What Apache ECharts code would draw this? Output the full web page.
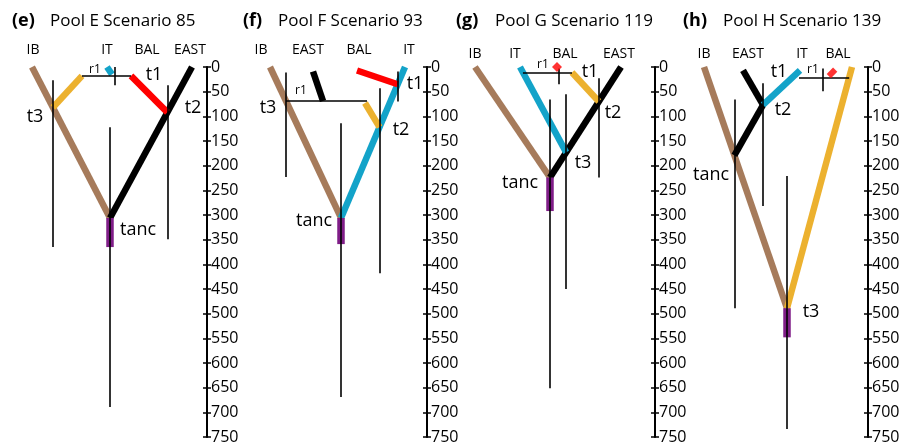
<!DOCTYPE html>
<html><head><meta charset="utf-8">
<script src="https://cdn.jsdelivr.net/npm/echarts@6/dist/echarts.min.js"></script>
<style>html,body{margin:0;padding:0;background:#fff}#c{width:911px;height:445px}</style>
</head><body><div id="c"></div>
<script>
// ---------- data ----------
const panelLetters = ['(e)', '(f)', '(g)', '(h)'];
const panelTitles = ['Pool E Scenario 85', 'Pool F Scenario 93', 'Pool G Scenario 119', 'Pool H Scenario 139'];
const popLabels = [['IB', 'IT', 'BAL', 'EAST'], ['IB', 'EAST', 'BAL', 'IT'], ['IB', 'IT', 'BAL', 'EAST'], ['IB', 'EAST', 'IT', 'BAL']];
const axisTicks = [0, 50, 100, 150, 200, 250, 300, 350, 400, 450, 500, 550, 600, 650, 700, 750];
// node times (panels e, f, g, h)
const r1Time   = [18, 69, 11, 21];
const t1Time   = [18, 35, 11, 7];
const t2Time   = [92, 122, 70, 77];
const t3Time   = [82, 69, 173, 489];
const tancTime = [306, 306, 224, 179];
const rootBarEnd = [365, 359, 292, 548];
// lineage start times of short tips
const tipStartF = [7, 9];     // BAL, EAST in (f)
const tipStartH = [7, 7];     // EAST, IT in (h)
// interval lines: [node, low, high]
const ciE = [['r1', 0, 37], ['t3', 27, 365], ['t2', 37, 349], ['tanc', 122, 689]];
const ciF = [['t1', 9, 70], ['t3', 11, 223], ['t2', 43, 418], ['tanc', 114, 669]];
const ciG = [['r1', 3, 35], ['t2', 23, 224], ['t3', 55, 450], ['tanc', 66, 651]];
const ciH = [['r1', 3, 49], ['t2', 33, 282], ['tanc', 66, 489], ['t3', 221, 734]];

// ---------- layout ----------
const AXIS_X = [207, 427, 655, 868];
const GW = 200, GTOP = 67, GH = 370;
const C = {brown: '#a67b5b', orange: '#ecb12f', red: '#ff0000', blue: '#13a3c9', black: '#000000', purple: '#7f1d87'};
const FONT = "'Open Sans', 'Noto Sans', sans-serif";

function lerp(a, b, T, t) { return a + (b - a) * t / T; }
function seg(p, q, color) { return {coords: [p, q], lineStyle: {color: color}}; }

function buildPanel(i) {
  const thick = [], thin = [], bar = [], dots = [];
  const nodeX = {};
  if (i === 0) {
    const L = {IB: 25, IT: 100, ITb: 105, BAL: 124, EAST: 185, root: 103, r1: 108, OR: 75};
    const T = tancTime[i];
    nodeX.t3 = lerp(L.IB, L.root, T, t3Time[i]);
    nodeX.t2 = lerp(L.EAST, L.root, T, t2Time[i]);
    nodeX.tanc = L.root; nodeX.r1 = L.r1;
    thick.push(seg([L.IB, 0], [L.root, T], C.brown));
    thick.push(seg([L.EAST, 0], [L.root, T], C.black));
    thick.push(seg([L.OR, r1Time[i]], [nodeX.t3, t3Time[i]], C.orange));
    thick.push(seg([L.BAL, r1Time[i]], [nodeX.t2, t2Time[i]], C.red));
    thick.push(seg([L.IT, 0], [L.ITb, r1Time[i] - 3], C.blue));
    thin.push(seg([L.OR, r1Time[i]], [L.BAL, r1Time[i]], C.black));
    bar.push(seg([L.root, T], [L.root, rootBarEnd[i]], C.purple));
    ciE.forEach(c => thin.push(seg([nodeX[c[0]], c[1]], [nodeX[c[0]], c[2]], C.black)));
  } else if (i === 1) {
    const L = {IB: 43, EAST: 86, EASTb: 96, BAL: 130, OR: 138, r1R: 140, IT: 178, root: 114};
    const T = tancTime[i];
    nodeX.tanc = L.root;
    nodeX.t1 = lerp(L.IT, L.root, T, t1Time[i]);
    nodeX.t2 = lerp(L.IT, L.root, T, t2Time[i]);
    nodeX.t3 = lerp(L.IB, L.root, T, t3Time[i]);
    thick.push(seg([L.IB, 0], [L.root, T], C.brown));
    thick.push(seg([L.IT, 0], [L.root, T], C.blue));
    thick.push(seg([L.BAL, tipStartF[0]], [nodeX.t1, t1Time[i]], C.red));
    thick.push(seg([L.EAST, tipStartF[1]], [L.EASTb, r1Time[i]], C.black));
    thick.push(seg([L.OR, r1Time[i] + 4], [nodeX.t2, t2Time[i]], C.orange));
    thin.push(seg([nodeX.t3, r1Time[i]], [L.r1R, r1Time[i]], C.black));
    bar.push(seg([L.root, T], [L.root, rootBarEnd[i]], C.purple));
    ciF.forEach(c => thin.push(seg([nodeX[c[0]], c[1]], [nodeX[c[0]], c[2]], C.black)));
  } else if (i === 2) {
    const L = {IB: 20, IT: 65, BAL: 102, r1: 104, OR: 117, EAST: 166, root: 95};
    const T = tancTime[i];
    nodeX.tanc = L.root; nodeX.r1 = L.r1;
    nodeX.t3 = lerp(L.EAST, L.root, T, t3Time[i]);
    nodeX.t2 = lerp(L.EAST, L.root, T, t2Time[i]);
    thick.push(seg([L.IB, 0], [L.root, T], C.brown));
    thick.push(seg([L.EAST, 0], [L.root, T], C.black));
    thick.push(seg([L.IT, 0], [nodeX.t3, t3Time[i]], C.blue));
    thick.push(seg([L.OR, r1Time[i]], [nodeX.t2, t2Time[i]], C.orange));
    thin.push(seg([lerp(L.IT, nodeX.t3, t3Time[i], r1Time[i]), r1Time[i]], [L.OR, r1Time[i]], C.black));
    bar.push(seg([L.root, T], [L.root, rootBarEnd[i]], C.purple));
    dots.push({value: [L.BAL, 0], symbol: 'diamond', symbolSize: [10, 10], symbolRotate: 0});
    ciG.forEach(c => thin.push(seg([nodeX[c[0]], c[1]], [nodeX[c[0]], c[2]], C.black)));
  } else {
    const L = {IB: 36, EAST: 75, t2: 95, IT: 132, r1L: 131, r1: 155, BAL: 164, YB: 184, root: 119};
    const T = t3Time[i];
    nodeX.t3 = L.root; nodeX.r1 = L.r1; nodeX.t2 = L.t2;
    nodeX.tanc = lerp(L.IB, L.root, T, tancTime[i]);
    thick.push(seg([L.IB, 0], [L.root, T], C.brown));
    thick.push(seg([L.YB, 0], [L.root, T], C.orange));
    thick.push(seg([L.EAST, tipStartH[0]], [L.t2, t2Time[i]], C.black));
    thick.push(seg([L.t2, t2Time[i]], [nodeX.tanc, tancTime[i]], C.black));
    thick.push(seg([L.IT, tipStartH[1]], [L.t2, t2Time[i]], C.blue));
    thin.push(seg([L.r1L, r1Time[i]], [lerp(L.YB, L.root, T, r1Time[i]), r1Time[i]], C.black));
    bar.push(seg([L.root, T], [L.root, rootBarEnd[i]], C.purple));
    dots.push({value: [L.BAL, 12], symbol: 'rect', symbolSize: [9, 6], symbolRotate: 45});
    ciH.forEach(c => thin.push(seg([nodeX[c[0]], c[1]], [nodeX[c[0]], c[2]], C.black)));
  }
  return {thick, thin, bar, dots};
}

// ---------- text positions ----------
const titleX = [[12, 50], [243, 278], [456, 495], [683, 723]];
const popX = [[33, 107, 147, 190], [261, 308, 359, 409], [475, 515, 565, 619], [704, 748, 802, 838]];
const popY = [50, 50, 54, 54];
const nodeLabelPos = [
  [['t1', 154, 75], ['t2', 193, 108], ['t3', 35, 117], ['tanc', 138, 230], ['r1', 95, 70]],
  [['t1', 415, 84], ['t2', 401, 130], ['t3', 268, 108], ['tanc', 314, 221], ['r1', 301, 91]],
  [['t1', 590, 72], ['t2', 613, 113], ['t3', 583, 163], ['tanc', 520, 183], ['r1', 543, 65]],
  [['t1', 779, 72], ['t2', 783, 110], ['t3', 811, 312], ['tanc', 711, 175], ['r1', 813, 70]]
];

const grids = [], xAxes = [], yAxes = [], series = [], graphics = [];
for (let i = 0; i < 4; i++) {
  grids.push({left: AXIS_X[i] - GW, top: GTOP, width: GW, height: GH, containLabel: false});
  xAxes.push({gridIndex: i, type: 'value', min: 0, max: GW, show: false});
  const yBase = {gridIndex: i, type: 'value', inverse: true, min: axisTicks[0], max: axisTicks[axisTicks.length - 1],
    interval: axisTicks[1] - axisTicks[0], position: 'right', splitLine: {show: false}};
  yAxes.push(Object.assign({}, yBase, {
    axisLine: {show: true, onZero: false, lineStyle: {color: '#000', width: 2}},
    axisTick: {show: true, inside: false, length: 4, lineStyle: {color: '#000', width: 1.5}},
    axisLabel: {show: true, color: '#000', fontSize: 16, fontFamily: FONT, margin: 4}
  }));
  yAxes.push(Object.assign({}, yBase, {
    axisLine: {show: false, onZero: false},
    axisTick: {show: true, inside: true, length: 4, lineStyle: {color: '#000', width: 1.5}},
    axisLabel: {show: false}
  }));
  const p = buildPanel(i);
  const common = {type: 'lines', coordinateSystem: 'cartesian2d', xAxisIndex: i, yAxisIndex: 2 * i, silent: true, clip: false};
  series.push(Object.assign({}, common, {z: 2, lineStyle: {width: 6.5, opacity: 1, cap: 'butt'}, data: p.thick}));
  series.push(Object.assign({}, common, {z: 3, lineStyle: {width: 7.5, opacity: 1, cap: 'butt'}, data: p.bar}));
  series.push(Object.assign({}, common, {z: 4, lineStyle: {width: 1.6, opacity: 1}, data: p.thin}));
  if (p.dots.length) {
    series.push({type: 'scatter', xAxisIndex: i, yAxisIndex: 2 * i, silent: true, clip: false, z: 5,
      itemStyle: {color: C.red}, data: p.dots});
  }
  graphics.push({type: 'text', x: titleX[i][0], y: 21, style: {text: panelLetters[i], fontSize: 18, fontWeight: 'bold', fontFamily: FONT, fill: '#000', align: 'left', verticalAlign: 'middle'}});
  graphics.push({type: 'text', x: titleX[i][1], y: 21, style: {text: panelTitles[i], fontSize: 17, fontFamily: FONT, fill: '#000', align: 'left', verticalAlign: 'middle'}});
  popLabels[i].forEach((lab, k) => graphics.push({type: 'text', x: popX[i][k], y: popY[i],
    style: {text: lab, fontSize: 14, fontFamily: FONT, fill: '#000', align: 'center', verticalAlign: 'middle'}}));
  nodeLabelPos[i].forEach(n => graphics.push({type: 'text', x: n[1], y: n[2],
    style: {text: n[0], fontSize: n[0] === 'r1' ? 12 : 18, fontFamily: FONT, fill: '#000', align: 'center', verticalAlign: 'middle'}}));
}

const chart = echarts.init(document.getElementById('c'), null, {renderer: 'canvas'});
chart.setOption({animation: false, backgroundColor: '#fff', grid: grids, xAxis: xAxes, yAxis: yAxes, series: series, graphic: graphics});
</script></body></html>
